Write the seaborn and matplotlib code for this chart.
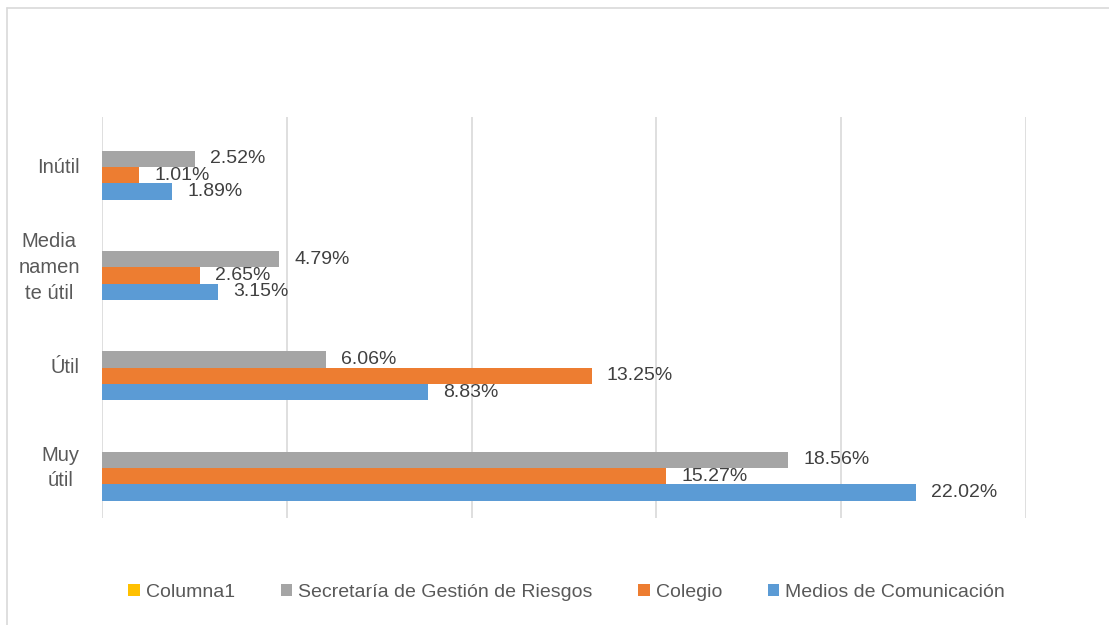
import matplotlib.pyplot as plt
import pandas as pd
import seaborn as sns
from matplotlib.lines import Line2D
from matplotlib.patches import Patch

# Data
categories = ["Inútil", "Media\nnamen\nte útil", "Útil", "Muy\nútil"]
series = ["Columna1", "Secretaría de Gestión de Riesgos", "Colegio", "Medios de Comunicación"]
columna1 = [0, 0, 0, 0]
secretaria = [2.52, 4.79, 6.06, 18.56]
colegio = [1.01, 2.65, 13.25, 15.27]
medios = [1.89, 3.15, 8.83, 22.02]
colors = ["#FFC000", "#A5A5A5", "#ED7D31", "#5B9BD5"]

rows = []
for name, vals in zip(series, [columna1, secretaria, colegio, medios]):
    for cat, v in zip(categories, vals):
        rows.append({"cat": cat, "serie": name, "value": v})
df = pd.DataFrame(rows)

sns.set_style("white")
plt.rcParams["font.family"] = ["Liberation Sans", "DejaVu Sans"]

fig = plt.figure(figsize=(11.09, 6.25), dpi=100)
ax = fig.add_axes([0.092, 0.171, 0.833, 0.642])

sns.barplot(data=df, y="cat", x="value", hue="serie", order=categories,
            hue_order=series, palette=colors, orient="h", width=0.65,
            saturation=1, ax=ax, legend=False, edgecolor="none")

# Data labels (skip the empty Columna1 series)
for cont, name in zip(ax.containers, series):
    if name == "Columna1":
        continue
    ax.bar_label(cont, labels=[f"{v:.2f}%" for v in cont.datavalues],
                 padding=11, fontsize=14, color="#404040")

ax.set_xlim(0, 25)
ax.set_xticks([0, 5, 10, 15, 20, 25])
ax.set_xticklabels([])
ax.tick_params(axis="x", length=0)
ax.tick_params(axis="y", length=0, pad=16, labelsize=14.5, labelcolor="#595959")
for lab in ax.get_yticklabels():
    lab.set_multialignment("center")
    lab.set_horizontalalignment("right")
    lab.set_verticalalignment("center")
    lab.set_linespacing(1.45)
ax.xaxis.grid(True, color="#D9D9D9", linewidth=1.2)
ax.yaxis.grid(False)
for s in ax.spines.values():
    s.set_visible(False)
ax.set_xlabel("")
ax.set_ylabel("")
ax.set_ylim(3.5, -0.5)

handles = [Patch(facecolor=c, edgecolor="none") for c in colors]
fig.legend(handles, series, loc="center", bbox_to_anchor=(0.511, 0.052), ncol=4,
           frameon=False, fontsize=14, labelcolor="#595959", handlelength=0.6,
           handleheight=0.6, handletextpad=0.3, columnspacing=2.35)

# Light chart border (top and left)
fig.add_artist(Line2D([0.0065, 1.0], [0.987, 0.987], color="#D9D9D9", lw=1.2))
fig.add_artist(Line2D([0.0065, 0.0065], [0.0, 0.987], color="#D9D9D9", lw=1.2))

fig.savefig("out.png", dpi=100)
